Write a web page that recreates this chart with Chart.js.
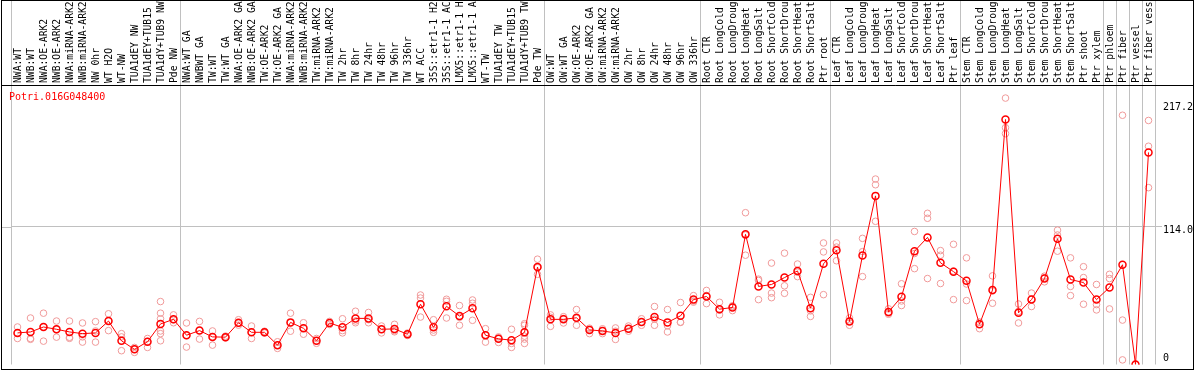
<!DOCTYPE html>
<html>
<head>
<meta charset="utf-8">
<script src="https://cdn.jsdelivr.net/npm/chart.js@4.4.1/dist/chart.umd.min.js"></script>
<style>
  html, body { margin: 0; padding: 0; background: #fff; }
  canvas { display: block; }
</style>
</head>
<body>
<canvas id="chart" width="1194" height="370"></canvas>
<script>
const geneName = 'Potri.016G048400';

const samples = [
    'NWA:WT', 'NWB:WT', 'NWA:OE-ARK2', 'NWB:OE-ARK2', 'NWA:miRNA-ARK2', 'NWB:miRNA-ARK2',
    'NW 0hr', 'WT H2O', 'WT-NW', 'TUA1dEY NW', 'TUA1dEY+TUB15 NW', 'TUA1dY+TUB9 NW', 'Pde NW',
    'NWA:WT GA', 'NWBWT GA', 'TW:WT', 'TW:WT GA', 'NWA:OE-ARK2 GA', 'NWB:OE-ARK2 GA',
    'TW:OE-ARK2', 'TW:OE-ARK2 GA', 'NWA:miRNA-ARK2', 'NWB:miRNA-ARK2', 'TW:miRNA-ARK2', 'TW:miRNA-ARK2',
    'TW 2hr', 'TW 8hr', 'TW 24hr', 'TW 48hr', 'TW 96hr', 'TW 336hr', 'WT ACC',
    '35S::etr1-1 H2O', '35S::etr1-1 ACC', 'LMX5::etr1-1 H2O', 'LMX5::etr1-1 ACC', 'WT-TW',
    'TUA1dEY TW', 'TUA1dEY+TUB15 TW', 'TUA1dY+TUB9 TW', 'Pde TW',
    'OW:WT', 'OW:WT GA', 'OW:OE-ARK2', 'OW:OE-ARK2 GA', 'OW:miRNA-ARK2', 'OW:miRNA-ARK2',
    'OW 2hr', 'OW 8hr', 'OW 24hr', 'OW 48hr', 'OW 96hr', 'OW 336hr',
    'Root CTR', 'Root LongCold', 'Root LongDrought', 'Root LongHeat', 'Root LongSalt',
    'Root ShortCold', 'Root ShortDrought', 'Root ShortHeat', 'Root ShortSalt', 'Ptr root',
    'Leaf CTR', 'Leaf LongCold', 'Leaf LongDrought', 'Leaf LongHeat', 'Leaf LongSalt',
    'Leaf ShortCold', 'Leaf ShortDrought', 'Leaf ShortHeat', 'Leaf ShortSalt', 'Ptr leaf',
    'Stem CTR', 'Stem LongCold', 'Stem LongDrought', 'Stem LongHeat', 'Stem LongSalt',
    'Stem ShortCold', 'Stem ShortDrought', 'Stem ShortHeat', 'Stem ShortSalt', 'Ptr shoot',
    'Ptr xylem', 'Ptr phloem', 'Ptr fiber', 'Ptr vessel', 'Ptr fiber vessel'
];

const means = [
    26.1, 26.9, 31.0, 29.1, 26.9, 25.5, 26.1, 35.9, 19.6, 12.5, 18.8, 33.5, 37.3,
    24.2, 28.0, 22.8, 22.6, 34.5, 26.6, 26.6, 16.0, 34.8, 29.9, 19.6, 34.3, 30.7,
    38.1, 38.1, 29.1, 29.4, 25.0, 49.8, 30.7, 48.1, 40.0, 46.5, 24.2, 21.2, 20.1, 26.6, 80.5,
    37.3, 37.3, 38.6, 28.6, 27.7, 26.1, 29.6, 35.1, 39.2, 34.8, 40.2, 53.6,
    56.2, 45.7, 47.1, 107.5, 64.5, 66.1, 71.8, 77.3, 46.5, 83.2,
    94.4, 35.6, 90.0, 139.3, 43.3, 56.0, 93.6, 105.0, 84.0, 76.7,
    69.1, 33.2, 61.5, 202.4, 42.7, 53.6, 71.0, 103.9, 70.2, 67.7, 53.6,
    63.7, 82.4, 0, 175.2
];

const replicates = [
    [31, 21.5, 26], [38.4, 20.8, 21.5], [42.4, 19.3, 31], [35.9, 22.6, 29], [35.9, 21.6, 22.5],
    [34.3, 22.8, 18.5], [35.4, 27.7, 18.5], [41.9, 28, 36], [25.5, 11.4, 22.8], [14.1, 10, 12.5],
    [21.5, 14.1, 19], [52, 42.4, 37.8, 27.7, 25.5, 19.6], [41, 34.5, 37],
    [34.3, 14.4, 24], [35.6, 21, 28], [27.7, 16, 23], [23.5, 22, 22.5], [37, 34, 32.5],
    [31.8, 21.5, 26.6], [27.5, 26, 26.5], [18.8, 13.3, 16], [42.4, 27.5, 34.5], [34.5, 25, 30],
    [21.5, 17.5, 19.6], [35.6, 33, 34.3], [37.8, 26.1, 28], [44, 34.5, 36], [43, 34.5, 37],
    [31.8, 26.1, 29], [33.2, 27, 28], [26, 24, 25], [57.4, 54.9, 39.2], [37, 26.6, 28.5],
    [53.9, 52.2, 38.4], [48.7, 32.4, 39], [53.3, 50.6, 36.5], [29.6, 18.5, 24.5], [22.8, 18.2, 21.5],
    [29.1, 17.4, 14.1], [33.7, 32.4, 26.6, 23.4, 21, 17.4], [87, 74.5, 80],
    [41, 31.5, 39], [39.5, 34.3, 38], [45.4, 32.4, 38], [30, 25.5, 29], [29.5, 25.5, 28],
    [30.2, 20.7, 27.5], [31.8, 27.5, 29.6], [37.8, 32.4, 35], [47.9, 32.4, 37.5], [45.4, 26.9, 32],
    [51.2, 34.8, 35], [56.9, 51.5, 52.5],
    [61.2, 50.3, 57], [51.4, 41, 45], [48.5, 44.5, 48], [125.4, 90.3, 107], [69.4, 53.6, 70.5],
    [83.8, 59, 55.2], [92, 65, 58.8], [83, 72.6, 76.3], [55.5, 39.7, 44.3], [100.4, 93, 57.7],
    [100.4, 85.7, 97], [38.5, 32.4, 36], [104.2, 72.6, 93.2], [153.2, 148.5, 118.3], [46, 41.5, 42.4],
    [66.7, 52.5, 48.7], [109.9, 79.2, 91.7], [124.9, 120.8, 71], [94.1, 90.3, 66.9], [99.3, 53.6, 77.2],
    [88.1, 66.5, 52.8], [34.9, 29.6, 35], [73.2, 50.6, 60.7], [220.1, 195.6, 190.7], [50, 34.3, 43.8],
    [59, 47.9, 54], [73, 68.3, 71.7], [111, 93.6, 107], [88.1, 64.5, 56.9], [80.8, 71.8, 49.8],
    [66.1, 45.1, 49.5], [74.5, 71, 45.9], [205.9, 36.7, 3.8], [0, 0, 0], [201.6, 180.3, 146.1]
];

// category index where each sample group starts (last one is the right edge)
const groupEdges = [0, 13, 41, 53, 63, 73, 84, 85, 86, 87, 88];
const yTicks = [0, 114.0, 217.2];
const yMax = 230.9;

const GRID = '#c0c0c0';
const NONE = 'rgba(0,0,0,0)';
const MONO = '"DejaVu Sans Mono", "Liberation Mono", monospace';

const datasets = [{
    type: 'line',
    label: 'mean',
    data: means,
    borderColor: '#ff0000',
    borderWidth: 1,
    pointRadius: 3.5,
    pointBorderWidth: 1.5,
    pointBorderColor: '#ff0000',
    pointBackgroundColor: NONE,
    tension: 0
}];
const repCount = Math.max(...replicates.map(r => r.length));
for (let k = 0; k < repCount; k++) {
    datasets.push({
        type: 'line',
        label: 'replicate ' + (k + 1),
        data: replicates.map(r => (r[k] === undefined ? null : r[k])),
        showLine: false,
        pointRadius: 3.3,
        pointBorderWidth: 1,
        pointBorderColor: '#f09a9a',
        pointBackgroundColor: NONE
    });
}

// frame, left bit of the 114 grid line and the gene name
const framePlugin = {
    id: 'frame',
    afterDraw(chart) {
        const ctx = chart.ctx;
        const area = chart.chartArea;
        const gy = Math.round(chart.scales.y.getPixelForValue(114)) + 0.5;
        ctx.save();
        ctx.lineWidth = 1;
        ctx.strokeStyle = GRID;
        ctx.beginPath();
        ctx.moveTo(2, gy);
        ctx.lineTo(area.left, gy);
        ctx.stroke();
        ctx.strokeStyle = '#000';
        ctx.strokeRect(1.5, 0.5, chart.width - 2, chart.height - 1);
        ctx.beginPath();
        ctx.moveTo(1.5, area.top + 0.5);
        ctx.lineTo(chart.width - 1, area.top + 0.5);
        ctx.stroke();
        ctx.fillStyle = '#ff0000';
        ctx.font = '10px ' + MONO;
        ctx.textBaseline = 'middle';
        ctx.fillText(geneName, 9, area.top + 12);
        ctx.restore();
    }
};

// vertical nudges of the right-hand labels (px), done through per-tick line height
const yLabelShift = { 0: -6.3, 114: 3.7, 217.2: 5.5 };

new Chart(document.getElementById('chart'), {
    type: 'line',
    data: { labels: samples, datasets: datasets },
    options: {
        responsive: false,
        animation: false,
        devicePixelRatio: 1,
        layout: { padding: { left: 11, right: 1, top: 0, bottom: 2 } },
        plugins: {
            legend: { display: false },
            tooltip: { enabled: false }
        },
        scales: {
            x: {
                type: 'category',
                position: 'top',
                offset: true,
                afterFit: s => {
                    s.height = 85;
                    s.paddingLeft = 0;
                    s.paddingRight = 0;
                },
                border: { display: false },
                grid: {
                    offset: true,
                    drawTicks: true,
                    tickLength: 85,
                    color: c => (c.type === 'scale' || groupEdges.includes(c.index) ? GRID : NONE)
                },
                ticks: {
                    autoSkip: false,
                    minRotation: 90,
                    maxRotation: 90,
                    padding: -83,
                    labelOffset: 12.6,
                    color: '#000',
                    font: { family: MONO, size: 9.7 }
                }
            },
            y: {
                position: 'right',
                min: 0,
                max: yMax,
                afterBuildTicks: s => { s.ticks = yTicks.map(v => ({ value: v })); },
                afterFit: s => {
                    s.width = 38;
                    s.paddingTop = 0;
                    s.paddingBottom = 0;
                },
                border: { display: false },
                grid: {
                    drawTicks: true,
                    tickLength: 7,
                    color: c => (c.tick && c.tick.value === 114 ? GRID : NONE)
                },
                ticks: {
                    padding: 1,
                    color: '#000',
                    font: c => {
                        const v = c.tick ? c.tick.value : 0;
                        return { family: MONO, size: 10, lineHeight: (Math.abs(yLabelShift[v] || 6) * 2) + 'px' };
                    },
                    callback: v => {
                        const txt = v === 0 ? '0' : v.toFixed(1);
                        return yLabelShift[v] < 0 ? [txt, ''] : ['', txt];
                    }
                }
            }
        }
    },
    plugins: [framePlugin]
});
</script>
</body>
</html>
